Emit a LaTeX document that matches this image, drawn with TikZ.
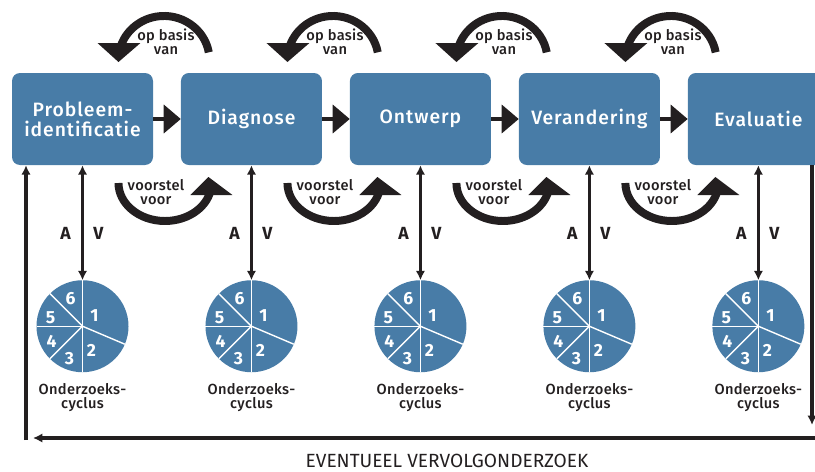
\documentclass[tikz,border=0pt]{standalone}
\usepackage{fontspec}
\setmainfont{Fira Sans}
\newfontfamily\phasefont[LetterSpace=5]{Fira Sans Medium}
\newfontfamily\notefont[LetterSpace=2]{Fira Sans Medium}
\usetikzlibrary{calc}
\usetikzlibrary{arrows.meta,positioning}

\definecolor{phaseblue}{RGB}{72,124,167}
\definecolor{inkblack}{RGB}{35,31,32}

\begin{document}
\begin{tikzpicture}[
  phase/.style={rectangle,rounded corners=0.24cm,minimum height=2.76cm,minimum width=4.23cm,inner sep=0pt,fill=phaseblue,text=white,align=center,font=\phasefont\fontsize{16.5}{17}\selectfont},
  flow/.style={draw=inkblack,line width=3.4pt,arrows={-Triangle[width=24.7pt,length=14.5pt,line width=0pt]}},
  turn/.style={draw=inkblack,line width=6.8pt},
  turnhead/.style={fill=inkblack},
  link/.style={draw=inkblack,line width=2.6pt,arrows={Latex[width=8pt,length=8pt]-Latex[width=8pt,length=8pt]}},
  back/.style={draw=inkblack,line width=2.6pt,arrows={-Latex[width=8pt,length=8pt]}},
  remark/.style={text=inkblack,align=center,inner sep=0pt,font=\notefont\fontsize{12.5}{12}\selectfont},
  pie/.style={circle,fill=phaseblue,minimum size=2.76cm,inner sep=0pt,outer sep=0pt},
  piecut/.style={draw=white,line width=1.2pt},
  slice/.style={text=white,inner sep=0pt,font=\fontsize{15}{15}\selectfont\bfseries},
  side/.style={text=inkblack,inner sep=0pt,font=\fontsize{15}{15}\selectfont\bfseries}
]

\coordinate (LEFTCORNER) at (0,0);
\useasboundingbox (LEFTCORNER) rectangle ++(24.45,14.13);

%%%%%%%%%%%%%%%%%%%%%

%draw phases
\node[phase] at ($(LEFTCORNER)+(2.475,10.56)$) (PHASE1) {Probleem-\\identificatie};
\node[phase,right=0.825cm of PHASE1] (PHASE2) {Diagnose};
\node[phase,right=0.825cm of PHASE2] (PHASE3) {Ontwerp};
\node[phase,right=0.825cm of PHASE3] (PHASE4) {Verandering};
\node[phase,right=0.825cm of PHASE4] (PHASE5) {Evaluatie};

%arrows between phases
\draw[flow] (PHASE1) -- (PHASE2);
\draw[flow] (PHASE2) -- (PHASE3);
\draw[flow] (PHASE3) -- (PHASE4);
\draw[flow] (PHASE4) -- (PHASE5);

%%%%%%%

%draw turning arrows above and below the gaps
\foreach \a/\b in {1/2,2/3,3/4,4/5} {
  \coordinate (GAP\a) at ($(PHASE\a.east)!0.5!(PHASE\b.west)$);
  % op basis van
  \draw[turn] ($(GAP\a)+(1.254,2.0)$) arc[start angle=10,end angle=170,x radius=1.365,y radius=1.32];
  \fill[turnhead] ($(GAP\a)+(-2.085,2.28)$) -- ++(1.29,0) -- ($(GAP\a)+(-1.455,1.71)$) -- cycle;
  \node[remark] at ($(GAP\a)+(-0.03,2.31)$) (BASIS\a) {op basis\\van};
  % voorstel voor
  \draw[turn] ($(GAP\a)+(-1.455,-1.92)$) arc[start angle=180,end angle=355,x radius=1.395,y radius=1.14];
  \fill[turnhead] ($(GAP\a)+(0.705,-2.28)$) -- ++(1.26,0) -- ($(GAP\a)+(1.245,-1.74)$) -- cycle;
  \node[remark] at ($(GAP\a)+(-0.33,-2.19)$) (PROPOSE\a) {voorstel\\voor};
}

%%%%%%%

%draw research cycles under each phase
\foreach \i in {1,...,5} {
  \node[pie,below=3.45cm of PHASE\i] (PIE\i) {};
  \draw[piecut] (PIE\i.center) -- (PIE\i.90);
  \draw[piecut] (PIE\i.center) -- (PIE\i.-23);
  \draw[piecut] (PIE\i.center) -- (PIE\i.-90);
  \draw[piecut] (PIE\i.center) -- (PIE\i.-135);
  \draw[piecut] (PIE\i.center) -- (PIE\i.180);
  \draw[piecut] (PIE\i.center) -- (PIE\i.135);
  \node[slice] at ($(PIE\i.center)+(0.36,0.33)$) {1};
  \node[slice] at ($(PIE\i.center)+(0.27,-0.72)$) {2};
  \node[slice] at ($(PIE\i.center)+(-0.39,-0.96)$) {3};
  \node[slice] at ($(PIE\i.center)+(-0.93,-0.45)$) {4};
  \node[slice] at ($(PIE\i.center)+(-0.96,0.27)$) {5};
  \node[slice] at ($(PIE\i.center)+(-0.36,0.84)$) {6};
  \node[remark] at ($(PIE\i.center)+(0,-2.13)$) (CYCLE\i) {Onderzoeks-\\cyclus};
  \draw[link] (PHASE\i) -- (PIE\i);
  \node[side] at ($(PIE\i.north)+(-0.51,1.41)$) {A};
  \node[side] at ($(PIE\i.north)+(0.48,1.41)$) {V};
}

%%%%%%%%%%%%%%%%%%%
%draw the loop back to the start

\coordinate (LOOPR) at ($(LEFTCORNER)+(24.36,1.38)$);
\coordinate (BACKR) at ($(LEFTCORNER)+(24.45,0.99)$);
\coordinate (BACKL) at ($(LEFTCORNER)+(0.99,0.99)$);
\coordinate (LOOPL) at ($(LEFTCORNER)+(0.78,0.93)$);

\draw[back] (PHASE5.south -| LOOPR) -- (LOOPR);
\draw[back,line width=4.2pt] (BACKR) -- (BACKL);
\draw[back] (LOOPL) -- (PHASE1.south -| LOOPL);

\node[text=inkblack,font=\fontsize{16.3}{16.3}\selectfont] at ($(LEFTCORNER)+(13.41,0.30)$) (NEXT) {EVENTUEEL VERVOLGONDERZOEK};

%%%%%%%%%%%%%%%%%%%%%%

\end{tikzpicture}
\end{document}
